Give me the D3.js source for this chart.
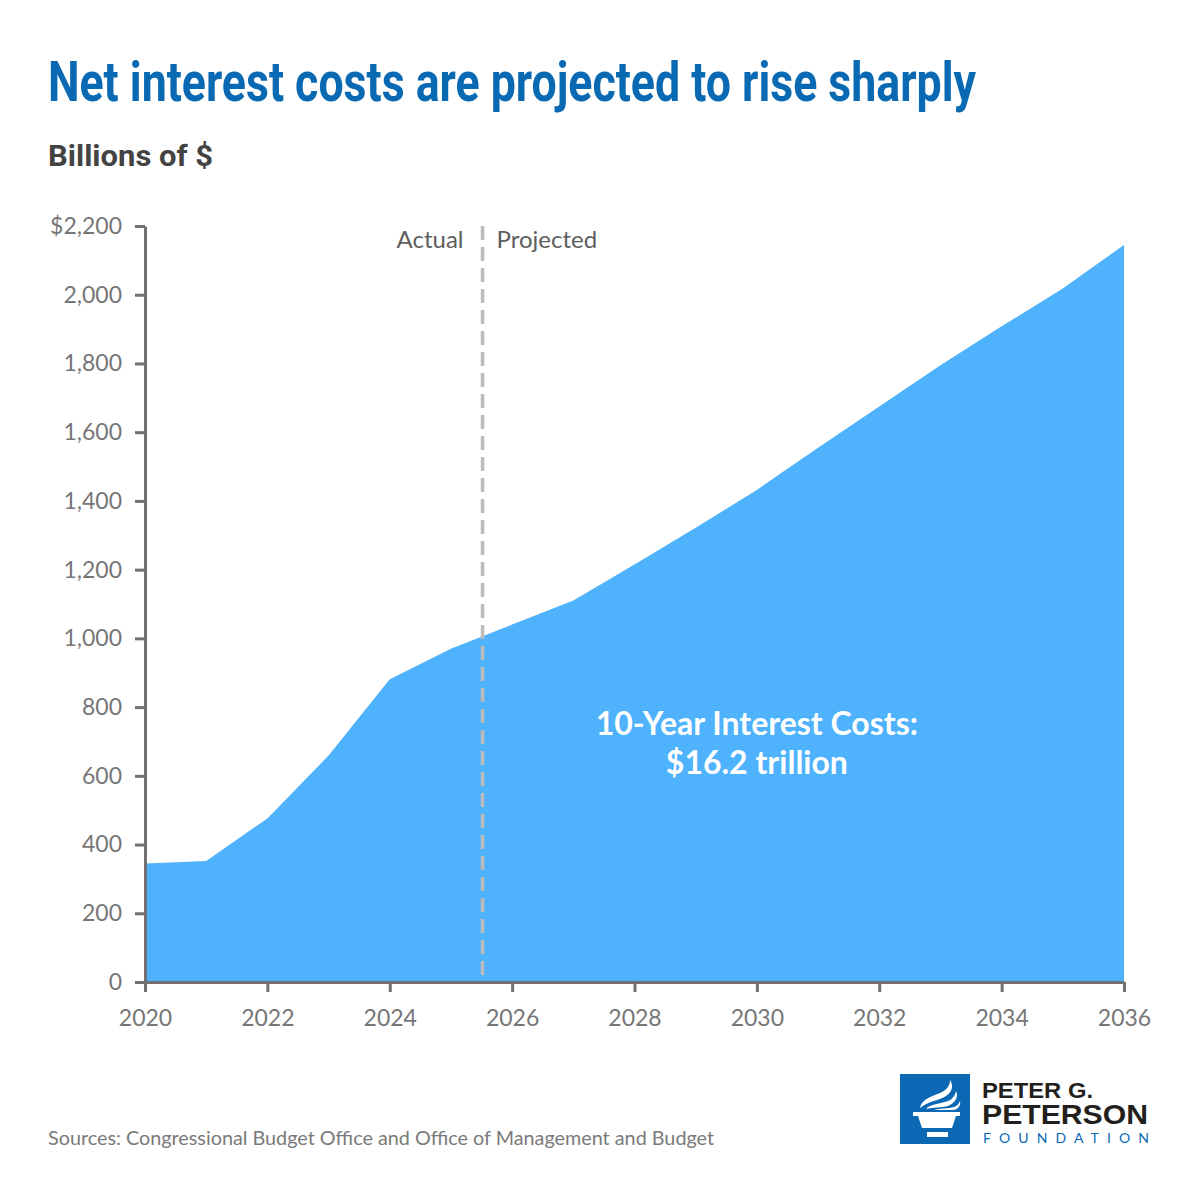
<!DOCTYPE html>
<html>
<head>
<meta charset="utf-8">
<script src="https://cdn.jsdelivr.net/npm/d3@7"></script>
<style>
  body { margin: 0; background: #fff; }
  svg { display: block; }
</style>
</head>
<body>
<div id="chart"></div>
<script>
// Data (billions of dollars)
const years = [2020, 2021, 2022, 2023, 2024, 2025, 2026, 2027, 2028, 2029, 2030, 2031, 2032, 2033, 2034, 2035, 2036];
const interest = [345, 352, 476, 659, 881, 970, 1040, 1110, 1215, 1322, 1432, 1555, 1675, 1795, 1908, 2018, 2145];
const yTicks = [0, 200, 400, 600, 800, 1000, 1200, 1400, 1600, 1800, 2000, 2200];
const xTicks = [2020, 2022, 2024, 2026, 2028, 2030, 2032, 2034, 2036];
const splitYear = 2025.5;

const data = years.map((y, i) => ({year: y, value: interest[i]}));

const width = 1200, height = 1200;
const margins = {top: 226, right: 76, bottom: 218, left: 145};

const svg = d3.select("#chart")
  .append("svg")
  .attr("width", width)
  .attr("height", height)
  .attr("viewBox", [0, 0, width, height]);

const x = d3.scaleLinear()
  .domain([2020, 2036])
  .range([margins.left, width - margins.right]);

const y = d3.scaleLinear()
  .domain([0, 2200])
  .range([height - margins.bottom, margins.top]);

// Title and subtitle
svg.append("text")
  .attr("x", 48)
  .attr("y", 101)
  .attr("textLength", 928)
  .attr("lengthAdjust", "spacingAndGlyphs")
  .style("font-family", "'Liberation Sans Narrow', 'Roboto', sans-serif")
  .style("font-weight", "bold")
  .style("font-size", "56px")
  .style("fill", "#0969b2")
  .text("Net interest costs are projected to rise sharply");

svg.append("text")
  .attr("x", 48)
  .attr("y", 166)
  .attr("textLength", 165)
  .attr("lengthAdjust", "spacingAndGlyphs")
  .style("font-family", "'Liberation Sans Narrow', 'Roboto', sans-serif")
  .style("font-weight", "bold")
  .style("font-size", "29px")
  .style("fill", "#434343")
  .text("Billions of $");

// Area
const area = d3.area()
  .x(d => x(d.year))
  .y0(y(0))
  .y1(d => y(d.value));

svg.append("path")
  .datum(data)
  .attr("d", area)
  .attr("fill", "#4eb2fc");

// Divider between actual and projected
svg.append("line")
  .attr("x1", x(splitYear) + 1)
  .attr("x2", x(splitYear) + 1)
  .attr("y1", y(2200))
  .attr("y2", y(0))
  .attr("stroke", "#bcbcbc")
  .attr("stroke-width", 3.5)
  .attr("stroke-dasharray", "14,7");

svg.append("text")
  .attr("x", x(splitYear) - 18)
  .attr("y", 248)
  .attr("text-anchor", "end")
  .style("font-family", "Lato, sans-serif")
  .style("font-size", "24px")
  .style("fill", "#5e5e5e")
  .text("Actual");

svg.append("text")
  .attr("x", x(splitYear) + 15)
  .attr("y", 248)
  .style("font-family", "Lato, sans-serif")
  .style("font-size", "24px")
  .style("fill", "#5e5e5e")
  .text("Projected");

// Annotation
const note = svg.append("text")
  .attr("text-anchor", "middle")
  .style("font-family", "Lato, sans-serif")
  .style("font-weight", "bold")
  .style("font-size", "32px")
  .style("fill", "#fff");
note.append("tspan").attr("x", x(2030)).attr("y", 735).text("10-Year Interest Costs:");
note.append("tspan").attr("x", x(2030)).attr("y", 774).text("$16.2 trillion");

// Axes
const yAxis = d3.axisLeft(y)
  .tickValues(yTicks)
  .tickSize(10)
  .tickSizeOuter(0)
  .tickPadding(13)
  .tickFormat(d => d === 2200 ? "$2,200" : d3.format(",")(d));

svg.append("g")
    .attr("transform", `translate(${margins.left},0)`)
  .call(yAxis)
  .call(g => g.selectAll(".domain, line").attr("stroke", "#717171").attr("stroke-width", 3))
  .call(g => g.selectAll("text")
    .style("font-family", "Lato, sans-serif")
    .style("font-size", "23px")
    .style("fill", "#767676"));

const xAxis = d3.axisBottom(x)
  .tickValues(xTicks)
  .tickSize(10)
  .tickSizeOuter(0)
  .tickPadding(18)
  .tickFormat(d3.format("d"));

svg.append("g")
    .attr("transform", `translate(0,${height - margins.bottom})`)
  .call(xAxis)
  .call(g => g.selectAll(".domain, line").attr("stroke", "#717171").attr("stroke-width", 3))
  .call(g => g.selectAll("text")
    .style("font-family", "Lato, sans-serif")
    .style("font-size", "23px")
    .style("fill", "#767676"));

// Source
svg.append("text")
  .attr("x", 48)
  .attr("y", 1145)
  .style("font-family", "Lato, sans-serif")
  .style("font-size", "19.8px")
  .style("fill", "#7a7a7a")
  .text("Sources: Congressional Budget Office and Office of Management and Budget");

// Logo
const logo = svg.append("g").attr("transform", "translate(900,1074)");
logo.append("rect")
  .attr("width", 70).attr("height", 70)
  .attr("fill", "#0a68b4");
// torch cup
logo.append("path")
  .attr("d", "M13,38 L60,38 L60,42 L56,42 L52,54 L22,54 L18,42 L13,42 Z")
  .attr("fill", "#fff");
logo.append("rect")
  .attr("x", 27).attr("y", 58).attr("width", 21).attr("height", 5)
  .attr("fill", "#fff");
// flames
logo.append("path")
  .attr("d", "M20,34 C22,24 34,22 42,18 C48,15 50,10 50,6 C54,12 52,18 46,22 C38,27 28,27 20,34 Z")
  .attr("fill", "#fff");
logo.append("path")
  .attr("d", "M26,35 C30,30 40,30 48,27 C53,25 55,21 56,17 C59,23 55,29 48,32 C42,34 33,33 26,35 Z")
  .attr("fill", "#fff");
logo.append("path")
  .attr("d", "M34,36 C40,34 48,35 54,33 C57,32 59,30 60,27 C61,32 58,35 54,36 Z")
  .attr("fill", "#fff");

const logoText = svg.append("g")
  .style("font-family", "'Liberation Sans Narrow', sans-serif")
  .style("font-weight", "bold");
logoText.append("text")
  .attr("x", 982).attr("y", 1098)
  .attr("textLength", 111).attr("lengthAdjust", "spacingAndGlyphs")
  .style("font-size", "22px").style("fill", "#231f1c")
  .text("PETER G.");
logoText.append("text")
  .attr("x", 982).attr("y", 1124)
  .attr("textLength", 166).attr("lengthAdjust", "spacingAndGlyphs")
  .style("font-size", "28px").style("fill", "#231f1c")
  .text("PETERSON");
logoText.append("text")
  .attr("x", 983).attr("y", 1143)
  .attr("textLength", 166).attr("lengthAdjust", "spacing")
  .style("font-family", "Lato, sans-serif")
  .style("font-weight", "normal")
  .style("font-size", "14px").style("fill", "#0a68b4")
  .text("FOUNDATION");
</script>
</body>
</html>
